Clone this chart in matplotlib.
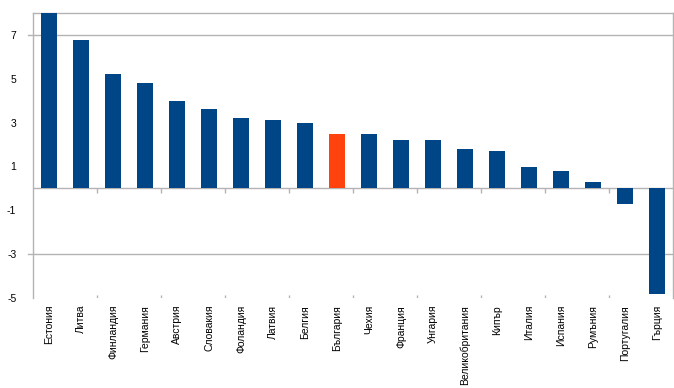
import matplotlib
matplotlib.use('agg')
import matplotlib.pyplot as plt
import numpy as np

countries = ['Естония', 'Литва', 'Финландия', 'Германия', 'Австрия', 'Словакия',
             'Фоландия', 'Латвия', 'Белгия', 'България', 'Чехия', 'Франция',
             'Унгария', 'Великобритания', 'Кипър', 'Италия', 'Испания', 'Румъния',
             'Португалия', 'Гърция']
values = [8.2, 6.77, 5.22, 4.81, 4.0, 3.62, 3.21, 3.12, 2.98, 2.49, 2.49, 2.2,
          2.2, 1.79, 1.7, 0.97, 0.79, 0.29, -0.70, -4.83]
highlight = 'България'

blue = '#004586'
orange = '#ff420e'
grid_c = '#b3b3b3'

plt.rcParams['font.family'] = ['Liberation Sans', 'DejaVu Sans']
plt.rcParams['axes.unicode_minus'] = False

fig = plt.figure(figsize=(6.74, 3.88), dpi=100)
ax = fig.add_axes([0.049, 0.232, 0.9495, 0.7345])

x = np.arange(len(countries))
colors = [orange if c == highlight else blue for c in countries]
ax.bar(x, values, width=0.5, color=colors, zorder=3)

ax.set_xlim(-0.5, len(countries) - 0.5)
ax.set_ylim(-5, 8)

# grid lines (major every 10) and zero line
for gy in [7, -3]:
    ax.plot([-0.65, len(countries) - 0.5], [gy, gy], color=grid_c, lw=1,
            clip_on=False, zorder=1)
ax.axhline(0, color=grid_c, lw=1, zorder=2)
seps = np.arange(1.5, len(countries) - 0.5, 2)
ax.vlines(seps, -0.2, 0, color=grid_c, lw=1, zorder=2)
ax.vlines(seps, -5, -4.85, color=grid_c, lw=1, zorder=2)

ax.set_yticks([7, 5, 3, 1, -1, -3, -5])
ax.tick_params(axis='y', length=0, pad=12, labelsize=7.5)
ax.set_xticks(x)
ax.set_xticklabels(countries, rotation=90, fontsize=7.5)
ax.tick_params(axis='x', length=0, pad=5)

for s in ['top', 'right', 'left']:
    ax.spines[s].set_color(grid_c)
    ax.spines[s].set_linewidth(1)
ax.spines['bottom'].set_visible(False)

fig.savefig('out.png', dpi=100)
